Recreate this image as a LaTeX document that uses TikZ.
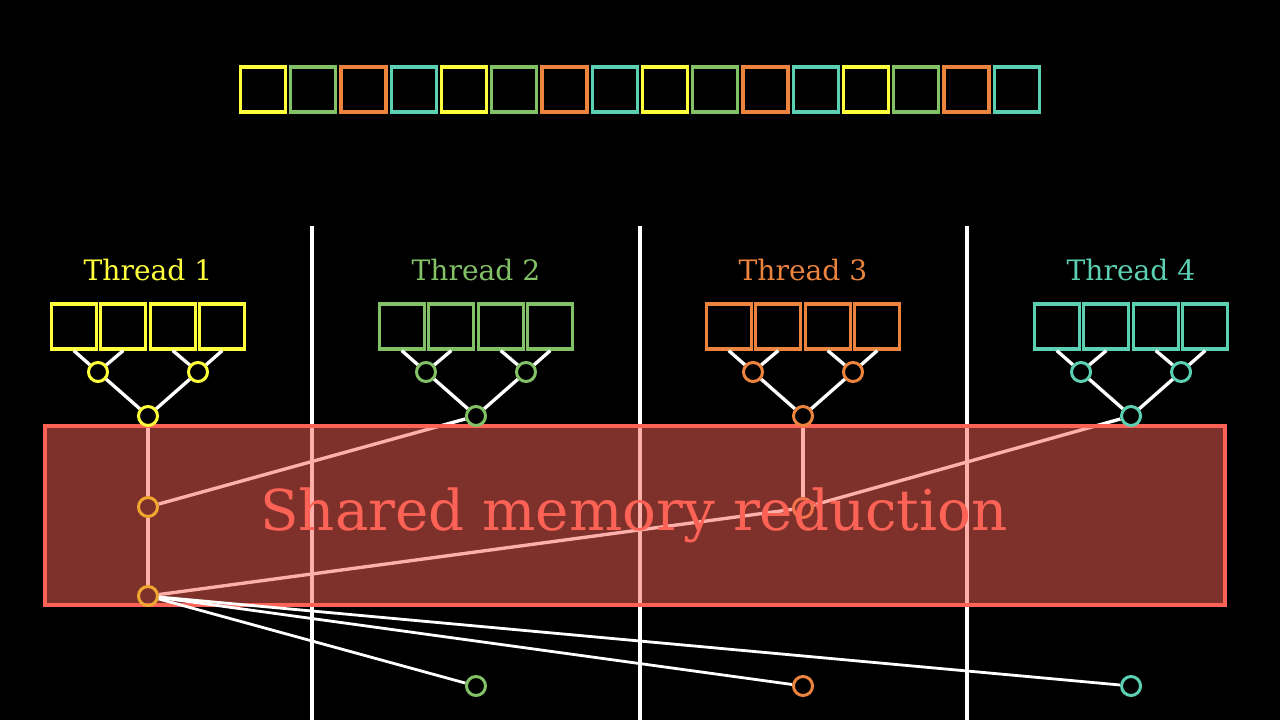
\documentclass[tikz,border=0pt]{standalone}
\usepackage{fontspec}
\setmainfont{DejaVu Serif}
\usepackage{tikz}
\definecolor{tyellow}{RGB}{255, 255, 60}
\definecolor{tgreen}{RGB}{131, 193, 103}
\definecolor{torange}{RGB}{236, 132, 62}
\definecolor{tteal}{RGB}{92, 208, 179}
\definecolor{tgold}{RGB}{240, 168, 48}
\definecolor{memred}{RGB}{252, 98, 85}
\pgfdeclarelayer{lines}
\pgfdeclarelayer{panel}
\pgfsetlayers{lines,panel,main}

\begin{document}
\begin{tikzpicture}[x=0.01cm, y=-0.01cm,
    cell/.style={draw, line width=0.9pt, minimum size=0.45cm, inner sep=0pt},
    dot/.style={circle, draw, line width=0.85pt, minimum size=0.19cm, inner sep=0pt},
    link/.style={white, line width=0.95pt},
    label/.style={font=\fontsize{8}{10}\selectfont, anchor=base}]
  \begin{pgfonlayer}{lines}
    \fill[black] (0,0) rectangle (1280,720);
    % separators between the threads
    \foreach \x in {312, 640, 967}
      \draw[white, line width=0.9pt] (\x,226) -- (\x,720);
  \end{pgfonlayer}

  % input array
  \foreach \c [count=\k] in {tyellow,tgreen,torange,tteal,tyellow,tgreen,torange,tteal,
                             tyellow,tgreen,torange,tteal,tyellow,tgreen,torange,tteal}
    \node[cell, draw=\c] (in\k) at ({263+50.25*(\k-1)},89.5) {};

  % per-thread reduction trees
  \foreach \i/\c/\x in {1/tyellow/148, 2/tgreen/476, 3/torange/803, 4/tteal/1131} {
    \node[label, text=\c] (name\i) at (\x,281) {Thread \i};
    \node[cell, draw=\c] (th\i a) at (\x-74.25,326.5) {};
    \node[cell, draw=\c] (th\i b) at (\x-24.75,326.5) {};
    \node[cell, draw=\c] (th\i c) at (\x+24.75,326.5) {};
    \node[cell, draw=\c] (th\i d) at (\x+74.25,326.5) {};
    \node[dot, draw=\c] (pl\i) at (\x-50,372) {};
    \node[dot, draw=\c] (pr\i) at (\x+50,372) {};
    \node[dot, draw=\c] (root\i) at (\x,416) {};
    \draw[link] (th\i a.south) -- (pl\i);
    \draw[link] (th\i b.south) -- (pl\i);
    \draw[link] (th\i c.south) -- (pr\i);
    \draw[link] (th\i d.south) -- (pr\i);
    \draw[link] (pl\i) -- (root\i);
    \draw[link] (pr\i) -- (root\i);
  }

  % shared memory stage
  \node[dot, draw=tgold] (sm1) at (148,507) {};
  \node[dot, draw=tgold] (sm2) at (148,596) {};
  \begin{pgfonlayer}{lines}
    \node[dot, draw=torange] (sm3) at (803,508) {};
    \draw[link] (root1) -- (sm1);
    \draw[link] (root2) -- (sm1);
    \draw[link] (root3) -- (sm3);
    \draw[link] (root4) -- (sm3);
    \draw[link] (sm1) -- (sm2);
    \draw[link] (sm3) -- (sm2);
  \end{pgfonlayer}
  \begin{pgfonlayer}{panel}
    \fill[memred, fill opacity=0.5] (45,426) rectangle (1225,605);
    \draw[memred, line width=0.9pt] (45,426) rectangle (1225,605);
    \node[text=memred, font=\fontsize{16}{20}\selectfont, anchor=base] (memtext) at (634,531) {Shared memory reduction};
  \end{pgfonlayer}

  % results written back
  \node[dot, draw=tgreen] (out2) at (476,686) {};
  \node[dot, draw=torange] (out3) at (803,686) {};
  \node[dot, draw=tteal] (out4) at (1131,686) {};
  \foreach \j in {2,3,4}
    \draw[white, line width=0.8pt] (sm2) -- (out\j);
\end{tikzpicture}
\end{document}
